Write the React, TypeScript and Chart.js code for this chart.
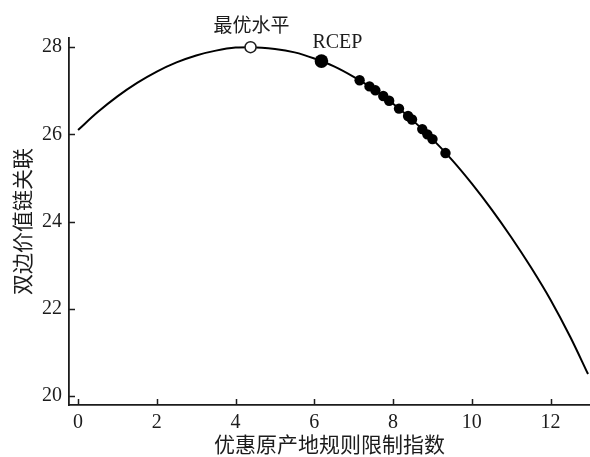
import React, { useEffect, useRef } from "react";
import { Chart, registerables } from "chart.js";

Chart.register(...registerables);

// Fitted curve (x = rule restriction index, y = GVC linkage)
const curveX = [0, 0.5, 1, 1.5, 2, 2.5, 3, 3.5, 4, 4.38, 5, 5.5, 6, 6.5, 7, 7.5, 8, 8.5, 9, 9.5, 10, 10.5, 11, 11.5, 12, 12.5, 12.95];
const curveY = [26.1, 26.51, 26.87, 27.18, 27.44, 27.65, 27.81, 27.92, 27.99, 28.0, 27.96, 27.88, 27.74, 27.56, 27.32, 27.04, 26.7, 26.32, 25.89, 25.41, 24.87, 24.28, 23.64, 22.95, 22.2, 21.35, 20.5];

// Observed agreements (dots)
const dotX = [7.15, 7.4, 7.55, 7.75, 7.9, 8.15, 8.38, 8.48, 8.74, 8.87, 9.0, 9.33];
const dotY = [27.24, 27.1, 27.01, 26.88, 26.77, 26.59, 26.42, 26.34, 26.12, 26.0, 25.89, 25.57];

const rcepX = 6.18;
const rcepY = 27.68;
const optimumX = 4.38;
const optimumY = 28.0;

const xTitle = "优惠原产地规则限制指数";
const yTitle = "双边价值链关联";
const optimumLabel = "最优水平";
const rcepLabel = "RCEP";

const INK = "#1c1c1c";
const SERIF = "'Liberation Serif', 'DejaVu Serif', serif";
const CJK = "'Noto Sans CJK SC', sans-serif";

const innerTicks = {
  id: "innerTicks",
  afterDraw(chart: any) {
    const { ctx, chartArea, scales } = chart;
    const xs = scales.x;
    const ys = scales.y;
    ctx.save();
    ctx.strokeStyle = INK;
    ctx.lineWidth = 1.5;
    ctx.beginPath();
    for (const t of ys.ticks) {
      const py = Math.round(ys.getPixelForValue(t.value)) + 0.5;
      ctx.moveTo(chartArea.left, py);
      ctx.lineTo(chartArea.left + 6, py);
    }
    for (const t of xs.ticks) {
      const px = Math.round(xs.getPixelForValue(t.value)) + 0.5;
      ctx.moveTo(px, chartArea.bottom);
      ctx.lineTo(px, chartArea.bottom - 6);
    }
    ctx.stroke();

    // annotations
    ctx.fillStyle = INK;
    ctx.textAlign = "center";
    ctx.textBaseline = "middle";
    ctx.font = `19px ${CJK}`;
    ctx.fillText(optimumLabel, xs.getPixelForValue(optimumX) + 1, ys.getPixelForValue(optimumY) - 22);
    ctx.font = `20px ${SERIF}`;
    ctx.fillText(rcepLabel, xs.getPixelForValue(rcepX) + 16, ys.getPixelForValue(rcepY) - 18);
    ctx.restore();
  },
};

export default function App() {
  const ref = useRef<HTMLCanvasElement | null>(null);
  useEffect(() => {
    if (!ref.current) return;
    const chart = new Chart(ref.current, {
      type: "scatter",
      data: {
        datasets: [
          {
            data: [{ x: optimumX, y: optimumY }],
            pointRadius: 5.5,
            pointBackgroundColor: "#ffffff",
            pointBorderColor: INK,
            pointBorderWidth: 1.5,
          },
          {
            data: [{ x: rcepX, y: rcepY }],
            pointRadius: 6.8,
            pointBackgroundColor: "#000000",
            pointBorderColor: "#000000",
            pointBorderWidth: 0,
          },
          {
            data: dotX.map((x, i) => ({ x, y: dotY[i] })),
            pointRadius: 5.2,
            pointBackgroundColor: "#000000",
            pointBorderColor: "#000000",
            pointBorderWidth: 0,
          },
          {
            data: curveX.map((x, i) => ({ x, y: curveY[i] })),
            showLine: true,
            pointRadius: 0,
            borderColor: "#000000",
            borderWidth: 2,
            cubicInterpolationMode: "monotone",
            fill: false,
          },
        ],
      },
      options: {
        animation: false,
        responsive: false,
        events: [],
        layout: { autoPadding: false, padding: { top: 38, right: 0, left: 0, bottom: 0 } },
        plugins: { legend: { display: false }, tooltip: { enabled: false } },
        scales: {
          x: {
            type: "linear",
            min: -0.23,
            max: 13.0,
            grid: { display: false, drawTicks: false },
            border: { display: true, color: INK, width: 1.8 },
            ticks: {
              stepSize: 2,
              includeBounds: false,
              color: INK,
              padding: 6,
              font: { family: SERIF, size: 20 },
            },
            title: {
              display: true,
              text: xTitle,
              color: INK,
              font: { family: CJK, size: 21 },
              padding: { top: 0, bottom: 0 },
            },
            afterFit: (s: any) => {
              s.height = 52;
              s.paddingLeft = 0;
              s.paddingRight = 0;
            },
          },
          y: {
            type: "linear",
            min: 19.79,
            max: 28.21,
            grid: { display: false, drawTicks: false },
            border: { display: true, color: INK, width: 1.8 },
            ticks: {
              stepSize: 2,
              includeBounds: false,
              color: INK,
              padding: 7,
              font: { family: SERIF, size: 20 },
            },
            title: {
              display: true,
              text: yTitle,
              color: INK,
              font: { family: CJK, size: 21 },
              padding: { top: 9, bottom: 0 },
            },
            afterFit: (s: any) => {
              s.width = 69;
            },
          },
        },
      },
      plugins: [innerTicks],
    } as any);
    return () => chart.destroy();
  }, []);
  return (
    <div style={{ position: "absolute", left: 0, top: 0, width: 590, height: 457, background: "#fff" }}>
      <canvas ref={ref} width={590} height={457} style={{ width: 590, height: 457 }} />
    </div>
  );
}
